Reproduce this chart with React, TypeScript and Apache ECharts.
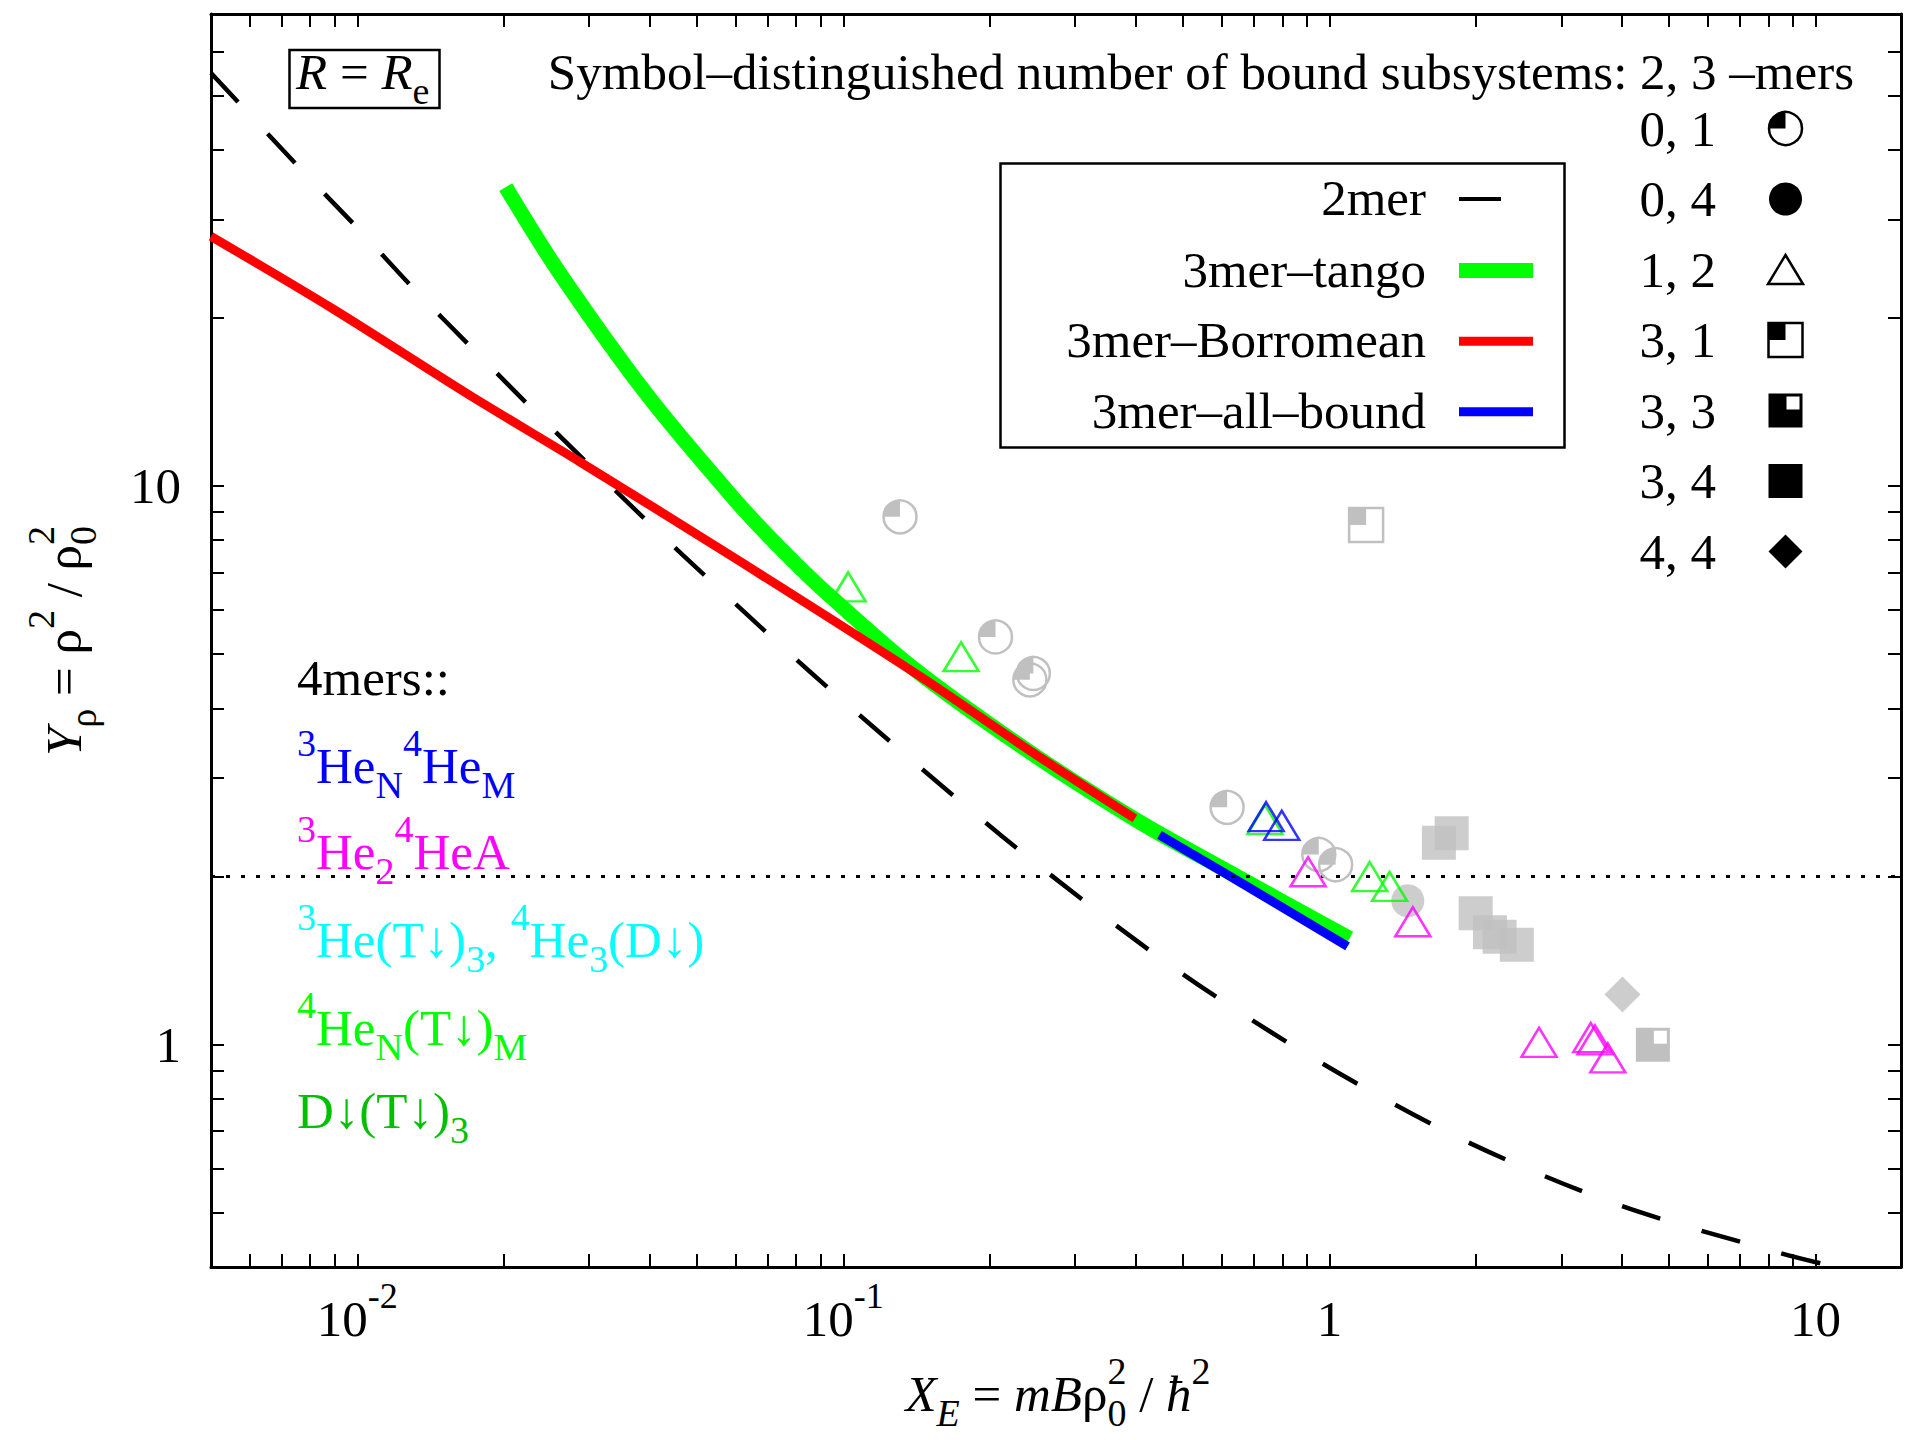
import React, { useEffect, useRef } from 'react';
import * as echarts from 'echarts';

const FONT = "'Liberation Serif', 'Times New Roman', Times, serif";
const GRAY = '#c0c0c0';
const GREEN = '#00ff00';
const RED = '#ff0000';
const BLUE = '#0000ff';
const MAGENTA = '#ff00ff';
const CYAN = '#00ffff';
const DARKGREEN = '#00c000';

// ---- curves (x = X_E, y = Y_rho) ----
const dimerX = [0.005, 0.00757, 0.00996, 0.0131, 0.0173, 0.023, 0.0407, 0.0546, 0.0735, 0.0988, 0.213, 0.469, 0.925, 1.874, 3.905, 8.36, 11];
const dimerY = [54.9, 37.3, 29.1, 22.5, 17.6, 13.7, 8.43, 6.64, 5.23, 4.16, 2.355, 1.39, 0.947, 0.677, 0.518, 0.425, 0.4];

const tangoX = [0.0202, 0.0258, 0.0394, 0.0601, 0.0741, 0.0918, 0.1397, 0.242, 0.402, 0.614, 1.1];
const tangoY = [34.3, 24.4, 14.6, 9.41, 7.75, 6.47, 4.71, 3.34, 2.52, 2.05, 1.55];

const borroX = [0.005, 0.00896, 0.0169, 0.0287, 0.0601, 0.143, 0.242, 0.398];
const borroY = [28.0, 20.7, 14.6, 11.05, 7.41, 4.58, 3.36, 2.54];

const allBoundX = [0.447, 0.614, 1.09];
const allBoundY = [2.375, 2.02, 1.5];

const refX = [0.005, 15];
const refY = [2, 2];

// ---- markers ----
const q01X = [0.1308, 0.2056, 0.246, 0.242, 0.616, 0.951, 1.03];
const q01Y = [8.81, 5.37, 4.62, 4.5, 2.66, 2.19, 2.1];
const c04X = [1.45];
const c04Y = [1.81];
const s31X = [1.19];
const s31Y = [8.52];
const s33X = [4.63];
const s33Y = [1.0];
const s34X = [1.785, 1.68, 2.0, 2.14, 2.24, 2.43];
const s34Y = [2.39, 2.3, 1.72, 1.59, 1.56, 1.51];
const d44X = [4.01];
const d44Y = [1.23];
const triGreenX = [0.1023, 0.1747, 0.737, 1.21, 1.33];
const triGreenY = [6.6, 4.95, 2.53, 2.0, 1.92];
const triBlueX = [0.741, 0.798];
const triBlueY = [2.56, 2.47];
const triMagX = [0.904, 1.485, 2.7, 3.45, 3.52, 3.74];
const triMagY = [2.04, 1.66, 1.01, 1.03, 1.02, 0.947];

// ---- axes ----
const X_TICKS = [0.006, 0.007, 0.008, 0.009, 0.01, 0.02, 0.03, 0.04, 0.05, 0.06, 0.07, 0.08, 0.09, 0.1, 0.2, 0.3, 0.4, 0.5, 0.6, 0.7, 0.8, 0.9, 1, 2, 3, 4, 5, 6, 7, 8, 9, 10];
const Y_TICKS = [0.5, 0.6, 0.7, 0.8, 0.9, 1, 2, 3, 4, 5, 6, 7, 8, 9, 10, 20, 30, 40, 50, 60];
const X_LABELS = [0.01, 0.1, 1, 10];
const Y_LABELS = [1, 10];

const KEY_LABELS = ['0, 1', '0, 4', '1, 2', '3, 1', '3, 3', '3, 4', '4, 4'];
const LINE_LABELS = ['2mer', '3mer\u2013tango', '3mer\u2013Borromean', '3mer\u2013all\u2013bound'];

const zip = (xs: number[], ys: number[]) => xs.map((x, i) => [x, ys[i]]);

function rich(fill: string, base = 51, small = 38) {
  const f = { fontFamily: FONT, fill, color: fill };
  return {
    n: { ...f, fontSize: base, lineHeight: 46 },
    i: { ...f, fontSize: base, fontStyle: 'italic', lineHeight: 46 },
    sp: { ...f, fontSize: small, padding: [0, 0, 47, 0] },
    sb: { ...f, fontSize: small, padding: [37, 0, 0, 0] },
    sbi: { ...f, fontSize: small, fontStyle: 'italic', padding: [37, 0, 0, 0] },
    sps: { ...f, fontSize: small, padding: [0, 0, 47, -19] },
  };
}

function txt(x: number, y: number, text: string, fill = '#000', align = 'left', extra: any = {}) {
  return {
    type: 'text',
    x,
    y,
    z: 100,
    silent: true,
    ...extra,
    style: { text, fill, fontFamily: FONT, fontSize: 51, align, verticalAlign: 'middle', rich: rich(fill) },
  };
}

// ---- marker drawers (return zrender element specs) ----
function quarterCircle(cx: number, cy: number, color: string, r = 16.5, lw = 2.5): any[] {
  return [
    { type: 'sector', shape: { cx, cy, r0: 0, r, startAngle: Math.PI, endAngle: Math.PI * 1.5, clockwise: true }, style: { fill: color } },
    { type: 'circle', shape: { cx, cy, r }, style: { fill: 'none', stroke: color, lineWidth: lw } },
  ];
}
function fullCircle(cx: number, cy: number, color: string, r = 16.5): any[] {
  return [{ type: 'circle', shape: { cx, cy, r }, style: { fill: color } }];
}
function triangle(cx: number, cy: number, color: string, w = 35, h = 29, lw = 2.5): any[] {
  return [
    {
      type: 'polygon',
      shape: { points: [[cx, cy - h / 2], [cx + w / 2, cy + h / 2], [cx - w / 2, cy + h / 2]] },
      style: { fill: 'none', stroke: color, lineWidth: lw },
    },
  ];
}
function square31(cx: number, cy: number, color: string, s = 34, lw = 2.5): any[] {
  const h = s / 2;
  return [
    { type: 'rect', shape: { x: cx - h, y: cy - h, width: h, height: h }, style: { fill: color } },
    { type: 'rect', shape: { x: cx - h, y: cy - h, width: s, height: s }, style: { fill: 'none', stroke: color, lineWidth: lw } },
  ];
}
function square33(cx: number, cy: number, color: string, s = 34, inset = 3): any[] {
  const h = s / 2;
  return [
    { type: 'rect', shape: { x: cx - h, y: cy - h, width: s, height: s }, style: { fill: color } },
    { type: 'rect', shape: { x: cx + 1, y: cy - h + inset, width: h - inset - 1, height: h - inset - 1 }, style: { fill: '#fff' } },
  ];
}
function square34(cx: number, cy: number, color: string, s = 34): any[] {
  const h = s / 2;
  return [{ type: 'rect', shape: { x: cx - h, y: cy - h, width: s, height: s }, style: { fill: color } }];
}
function diamond(cx: number, cy: number, color: string, s = 34): any[] {
  const h = s / 2;
  return [{ type: 'polygon', shape: { points: [[cx, cy - h], [cx + h, cy], [cx, cy + h], [cx - h, cy]] }, style: { fill: color } }];
}
const KEY_DRAWERS = [quarterCircle, fullCircle, triangle, square31, square33, square34, diamond];

function customMarkers(name: string, xs: number[], ys: number[], draw: (cx: number, cy: number, c: string) => any[]) {
  return {
    type: 'custom',
    name,
    coordinateSystem: 'cartesian2d',
    silent: true,
    z: 5,
    data: zip(xs, ys),
    renderItem: (params: any, api: any) => {
      const p = api.coord([api.value(0), api.value(1)]);
      return { type: 'group', children: draw(p[0], p[1], GRAY) };
    },
  };
}

function scatter(name: string, xs: number[], ys: number[], symbol: string, size: any, itemStyle: any) {
  return {
    type: 'scatter',
    name,
    data: zip(xs, ys),
    symbol,
    symbolSize: size,
    itemStyle,
    silent: true,
    z: 6,
  };
}

function curve(name: string, xs: number[], ys: number[], lineStyle: any) {
  return {
    type: 'line',
    name,
    data: zip(xs, ys),
    showSymbol: false,
    symbol: 'none',
    smooth: 0.3,
    silent: true,
    z: 2,
    lineStyle,
  };
}

function buildOption(): any {
  const axisLine = { show: true, onZero: false, lineStyle: { color: '#000', width: 3 } };
  const xBase = {
    type: 'log',
    logBase: 10,
    min: 0.005,
    max: 15,
    gridIndex: 0,
    splitLine: { show: false },
    minorTick: { show: false },
    minorSplitLine: { show: false },
    axisLine,
    axisTick: { show: true, inside: true, length: 13, customValues: X_TICKS, lineStyle: { color: '#000', width: 2 } },
  };
  const yBase = {
    type: 'log',
    logBase: 10,
    min: 0.4,
    max: 70,
    gridIndex: 0,
    splitLine: { show: false },
    minorTick: { show: false },
    minorSplitLine: { show: false },
    axisLine,
    axisTick: { show: true, inside: true, length: 13, customValues: Y_TICKS, lineStyle: { color: '#000', width: 2 } },
  };

  const graphic: any[] = [];

  // R = R_e box
  graphic.push({ type: 'rect', z: 100, silent: true, shape: { x: 289.5, y: 50, width: 150, height: 58 }, style: { fill: '#fff', stroke: '#000', lineWidth: 2.5 } });
  graphic.push(txt(296, 72, '{i|R}{n| = }{i|R}{sb|e}'));

  // header
  graphic.push(txt(1854, 72, '{n|Symbol\u2013distinguished number of bound subsystems: 2, 3 \u2013mers}', '#000', 'right'));

  // symbol key
  KEY_LABELS.forEach((lab, i) => {
    const cy = 128.5 + 70.5 * i;
    graphic.push(txt(1716, cy, `{n|${lab}}`, '#000', 'right'));
    graphic.push({ type: 'group', z: 100, silent: true, children: KEY_DRAWERS[i](1785.5, cy, '#000') });
  });

  // line legend box
  graphic.push({ type: 'rect', z: 99, silent: true, shape: { x: 1000.5, y: 163.5, width: 564, height: 284 }, style: { fill: '#fff', stroke: '#000', lineWidth: 2.5 } });
  const lineRows = [199, 270.5, 341.3, 411.7];
  const lineKeys = [
    { c: '#000', w: 4, x2: 1501 },
    { c: GREEN, w: 15, x2: 1533 },
    { c: RED, w: 9, x2: 1533 },
    { c: BLUE, w: 9, x2: 1533 },
  ];
  LINE_LABELS.forEach((lab, i) => {
    graphic.push(txt(1426, lineRows[i] - 1, `{n|${lab}}`, '#000', 'right'));
    const k = lineKeys[i];
    graphic.push({ type: 'line', z: 100, silent: true, shape: { x1: 1459, y1: lineRows[i], x2: k.x2, y2: lineRows[i] }, style: { stroke: k.c, lineWidth: k.w } });
  });

  // 4mers block
  graphic.push(txt(297, 678, '{n|4mers::}', '#000'));
  graphic.push(txt(297, 766, '{sp|3}{n|He}{sb|N}{sp|4}{n|He}{sb|M}', BLUE));
  graphic.push(txt(297, 852, '{sp|3}{n|He}{sb|2}{sp|4}{n|HeA}', MAGENTA));
  graphic.push(txt(297, 940, '{sp|3}{n|He(T\u2193)}{sb|3}{n|, }{sp|4}{n|He}{sb|3}{n|(D\u2193)}', CYAN));
  graphic.push(txt(297, 1028, '{sp|4}{n|He}{sb|N}{n|(T\u2193)}{sb|M}', GREEN));
  graphic.push(txt(297, 1111, '{n|D\u2193(T\u2193)}{sb|3}', DARKGREEN));

  // axis titles
  graphic.push(txt(1058, 1394, '{i|X}{sbi|E}{n| = }{i|mB}{n|\u03c1}{sb|0}{sps|2}{n| / }{i|\u0127}{sp|2}', '#000', 'center'));
  graphic.push(txt(64, 641, '{i|Y}{sb|\u03c1}{n| = \u03c1}{sp|2}{n| / \u03c1}{sb|0}{sps|2}', '#000', 'center', { rotation: Math.PI / 2 }));

  const series: any[] = [
    curve('2mer', dimerX, dimerY, { color: '#000', width: 4.5, type: [40, 43], cap: 'butt' }),
    curve('3mer-tango', tangoX, tangoY, { color: GREEN, width: 15, cap: 'butt' }),
    curve('3mer-Borromean', borroX, borroY, { color: RED, width: 9, cap: 'butt' }),
    curve('3mer-all-bound', allBoundX, allBoundY, { color: BLUE, width: 9, cap: 'butt' }),
    {
      type: 'line', name: 'Y=2', data: zip(refX, refY), showSymbol: false, symbol: 'none', silent: true, z: 3,
      lineStyle: { color: '#000', width: 3, type: [4, 11], cap: 'butt' },
    },
    customMarkers('0,1', q01X, q01Y, quarterCircle),
    customMarkers('3,1', s31X, s31Y, square31),
    customMarkers('3,3', s33X, s33Y, square33),
    scatter('0,4', c04X, c04Y, 'circle', 33, { color: GRAY }),
    scatter('3,4', s34X, s34Y, 'rect', 34, { color: GRAY }),
    scatter('4,4', d44X, d44Y, 'diamond', 36, { color: GRAY }),
    scatter('4He_N(T)_M', triGreenX, triGreenY, 'triangle', [35, 29], { color: 'rgba(0,0,0,0)', borderColor: GREEN, borderWidth: 2.5 }),
    scatter('3He_N 4He_M', triBlueX, triBlueY, 'triangle', [35, 29], { color: 'rgba(0,0,0,0)', borderColor: BLUE, borderWidth: 2.5 }),
    scatter('3He2 4HeA', triMagX, triMagY, 'triangle', [35, 29], { color: 'rgba(0,0,0,0)', borderColor: MAGENTA, borderWidth: 2.5 }),
  ];

  return {
    animation: false,
    backgroundColor: '#ffffff',
    textStyle: { fontFamily: FONT },
    grid: { left: 211, right: 16, top: 14, bottom: 173, containLabel: false, outerBoundsMode: 'none' },
    xAxis: [
      {
        ...xBase,
        position: 'bottom',
        axisLabel: {
          show: true,
          customValues: X_LABELS,
          margin: 52,
          verticalAlign: 'middle',
          formatter: (v: number) => {
            const k = Math.round(Math.log10(v));
            if (k < 0) return `{b|10}{s|${k}}`;
            return k === 0 ? '{b|1}' : '{b|10}';
          },
          rich: {
            b: { fontSize: 51, fontFamily: FONT, color: '#000' },
            s: { fontSize: 36, fontFamily: FONT, color: '#000', padding: [0, 0, 46, 0] },
          },
        },
      },
      { ...xBase, position: 'top', axisLabel: { show: false } },
    ],
    yAxis: [
      {
        ...yBase,
        position: 'left',
        axisLabel: {
          show: true,
          customValues: Y_LABELS,
          margin: 30,
          fontSize: 51,
          fontFamily: FONT,
          color: '#000',
          formatter: (v: number) => `${Math.round(v)}`,
        },
      },
      { ...yBase, position: 'right', axisLabel: { show: false } },
    ],
    series,
    graphic,
  };
}

export default function App() {
  const ref = useRef<HTMLDivElement>(null);
  useEffect(() => {
    const chart = echarts.init(ref.current as HTMLDivElement, null, { renderer: 'svg' });
    chart.setOption(buildOption());
    return () => chart.dispose();
  }, []);
  return (
    <div
      ref={ref}
      style={{ position: 'absolute', left: 0, top: 0, width: 1917, height: 1440, background: '#fff' }}
    />
  );
}
